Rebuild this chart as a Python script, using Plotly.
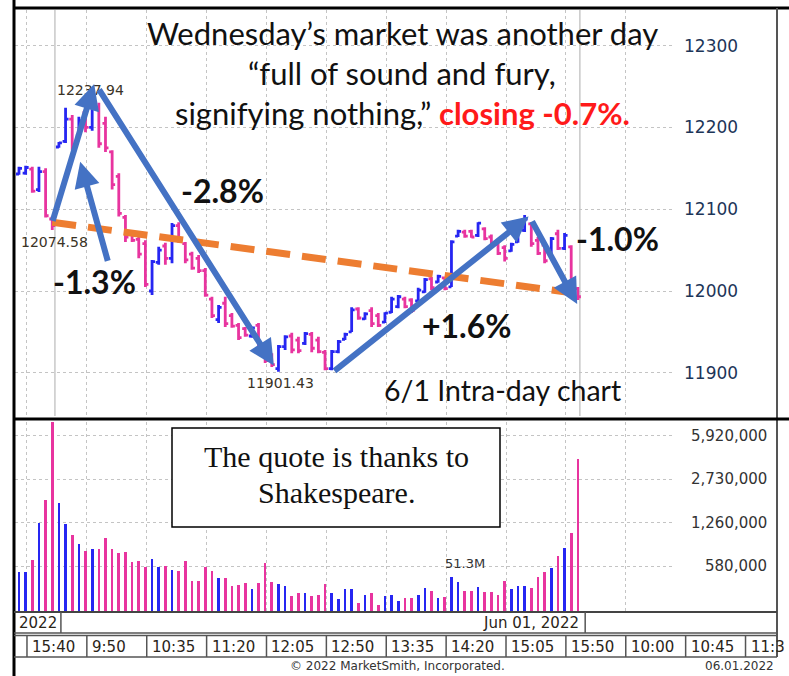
import math
import plotly.graph_objects as go

W, H = 789, 676

# ---------------- data (5-minute bars) ----------------
high = [12152, 12153, 12152, 12152, 12150, 12091, 12182, 12224, 12215, 12213,
        12221, 12237.94, 12230, 12213, 12172, 12144, 12093, 12071, 12066, 12062,
        12038, 12054, 12059, 12083, 12084, 12060, 12048, 12044, 12028, 11993,
        11983, 11993, 11973, 11961, 11956, 11956, 11961, 11932, 11924, 11934,
        11946, 11949, 11944, 11950, 11950, 11944, 11928, 11928, 11940, 11949,
        11980, 11980, 11974, 11980, 11973, 11974, 11993, 11995, 11993, 11991,
        12004, 12016, 12017, 12020, 12017, 12062, 12075, 12075, 12075, 12084,
        12078, 12069, 12059, 12056, 12059, 12075, 12093, 12084, 12066, 12059,
        12066, 12075, 12071, 12056, 12005]
low = [12142, 12142, 12120, 12121, 12090, 12074.58, 12175, 12181, 12172, 12187,
       12194, 12196, 12175, 12170, 12124, 12091, 12060, 12060, 12040, 12005,
       11995, 12032, 12032, 12034, 12059, 12034, 12026, 12022, 11993, 11967,
       11961, 11956, 11955, 11940, 11944, 11943, 11928, 11912, 11907, 11901.43,
       11928, 11924, 11924, 11934, 11925, 11924, 11903, 11903, 11924, 11940,
       11950, 11965, 11965, 11956, 11956, 11961, 11973, 11979, 11979, 11973,
       11987, 11998, 12001, 12010, 12001, 12005, 12066, 12065, 12065, 12066,
       12062, 12056, 12044, 12036, 12048, 12059, 12072, 12054, 12044, 12034,
       12044, 12050, 12050, 12007, 11989]
open_ = [12143, 12144, 12149, 12124, 12146, 12088, 12176, 12183, 12210, 12190,
         12218, 12200, 12224, 12205, 12170, 12140, 12090, 12069, 12063, 12058,
         12000, 12035, 12055, 12040, 12080, 12058, 12045, 12040, 12025, 11990,
         11965, 11985, 11970, 11958, 11954, 11945, 11958, 11929, 11921, 11905,
         11932, 11945, 11940, 11936, 11947, 11940, 11925, 11905, 11926, 11941,
         11950, 11978, 11966, 11976, 11970, 11962, 11974, 11981, 11990, 11989,
         11988, 11999, 12015, 12011, 12016, 12005, 12067, 12072, 12073, 12068,
         12076, 12066, 12057, 12053, 12049, 12060, 12074, 12082, 12062, 12056,
         12046, 12070, 12052, 12054, 12003]
close = [12150, 12151, 12122, 12146, 12092, 12080, 12181, 12210, 12178, 12208,
         12200, 12225, 12180, 12175, 12130, 12095, 12066, 12062, 12045, 12008,
         12036, 12050, 12040, 12080, 12062, 12038, 12028, 12025, 11995, 11970,
         11980, 11960, 11957, 11943, 11946, 11955, 11930, 11915, 11910, 11932,
         11944, 11928, 11927, 11948, 11930, 11926, 11905, 11926, 11938, 11947,
         11977, 11967, 11972, 11960, 11958, 11973, 11990, 11993, 11981, 11976,
         12001, 12014, 12004, 12018, 12003, 12060, 12073, 12067, 12066, 12083,
         12064, 12058, 12046, 12040, 12057, 12073, 12088, 12058, 12046, 12037,
         12064, 12052, 12068, 12010, 11993]
volume = [518000, 518000, 646000, 1257000, 1885000, 9500000, 1797000, 1228000, 1005000, 860000,
          758000, 782000, 782000, 956000, 782000, 727000, 741000, 620000, 634000, 573000,
          654000, 573000, 583000, 540000, 531000, 634000, 444000, 444000, 573000, 531000,
          466000, 466000, 408000, 414000, 431000, 382000, 431000, 615000, 433000, 420000,
          406000, 339000, 360000, 360000, 339000, 346000, 420000, 360000, 320000, 382000,
          382000, 301000, 346000, 360000, 289000, 339000, 346000, 310000, 329000, 329000,
          346000, 394000, 371000, 329000, 335000, 479000, 433000, 371000, 371000, 401000,
          363000, 363000, 346000, 444000, 382000, 406000, 406000, 394000, 479000, 518000,
          557000, 697000, 805000, 1041000, 3903000]

price_ticks = [11900, 12000, 12100, 12200, 12300]
volume_ticks = [580000, 1260000, 2730000, 5920000]
time_labels = ["15:40", "9:50", "10:35", "11:20", "12:05", "12:50", "13:35",
               "14:20", "15:05", "15:50", "10:00", "10:45", "11:3"]
high_label, day_open_label, low_label = "12237.94", "12074.58", "11901.43"
total_volume_label = "51.3M"

n = len(high)
assert len(low) == n and len(open_) == n and len(close) == n and len(volume) == n
idx = list(range(n))

BLUE = "#2626f2"
PINK = "#e8349f"
GRID = "#c4c4c4"
ARROW = "#4472C4"
ORANGE = "#ED7D31"
MS_FONT = "DejaVu Sans"

vol_colors = [BLUE if c > o else PINK for o, c in zip(open_, close)]

# ---------------- geometry helpers ----------------
def PXx(x):
    return x / W

def PXy(y):
    return 1 - y / H

X_PX0, X_PX1 = 15, 675
X_RANGE = [-0.6, 98.6]

def k_px(k):
    return X_PX0 + (k - X_RANGE[0]) / (X_RANGE[1] - X_RANGE[0]) * (X_PX1 - X_PX0)

TICK_START, TICK_STEP = 1.2, 9
tick_k = [TICK_START + TICK_STEP * j for j in range(len(time_labels))]
grid_k = [t for t in tick_k if t < X_RANGE[1]]

fig = go.Figure()

fig.add_trace(go.Ohlc(
    x=idx, open=open_, high=high, low=low, close=close,
    increasing=dict(line=dict(color=BLUE, width=2.8)),
    decreasing=dict(line=dict(color=PINK, width=2.8)),
    tickwidth=0.45, hoverinfo="skip", showlegend=False,
    xaxis="x", yaxis="y"))

fig.add_trace(go.Bar(
    x=idx, y=volume, marker=dict(color=vol_colors, line=dict(width=0)),
    width=0.4, hoverinfo="skip", showlegend=False,
    xaxis="x2", yaxis="y2"))

axis_common = dict(showline=False, zeroline=False, ticks="")
fig.update_layout(
    width=W, height=H, margin=dict(l=0, r=0, t=0, b=0),
    paper_bgcolor="white", plot_bgcolor="white",
    showlegend=False, bargap=0,
    xaxis=dict(domain=[PXx(X_PX0), PXx(X_PX1)], range=X_RANGE, anchor="y",
               tickvals=grid_k, showticklabels=False, showgrid=True,
               gridcolor=GRID, griddash="dot", gridwidth=1,
               rangeslider=dict(visible=False), **axis_common),
    xaxis2=dict(domain=[PXx(X_PX0), PXx(X_PX1)], range=X_RANGE, anchor="y2",
                matches="x", tickvals=grid_k, showticklabels=False, showgrid=True,
                gridcolor=GRID, griddash="dot", gridwidth=1, **axis_common),
    yaxis=dict(domain=[PXy(416), PXy(10)], range=[11847.2, 12343.5], anchor="x",
               side="right", tickvals=price_ticks, ticktext=[str(t) for t in price_ticks],
               tickfont=dict(family=MS_FONT, size=17, color="#1d3558"),
               ticklabelstandoff=8, showgrid=True, gridcolor=GRID, griddash="dot",
               gridwidth=1, **axis_common),
    yaxis2=dict(domain=[PXy(612), PXy(422)], type="log",
                range=[math.log10(255100), math.log10(7.6e6)], anchor="x2",
                tickvals=volume_ticks, showticklabels=False, showgrid=True,
                gridcolor=GRID, griddash="dot", gridwidth=1, **axis_common),
)

shapes = []
for kk in (5.4, 84.3):
    shapes.append(dict(type="line", xref="x", yref="paper", x0=kk, x1=kk,
                       y0=PXy(416), y1=PXy(10), line=dict(color="#c8c8c8", width=1.5),
                       layer="below"))
shapes.append(dict(type="line", xref="x", yref="y", x0=5.0, y0=12084, x1=83.8, y1=11997,
                   line=dict(color=ORANGE, width=7, dash="24px,12px")))

def pline(x0, y0, x1, y1, color="black", width=1):
    shapes.append(dict(type="line", xref="paper", yref="paper",
                       x0=PXx(x0), y0=PXy(y0), x1=PXx(x1), y1=PXy(y1),
                       line=dict(color=color, width=width)))

pline(14, 0, 14, 676, "black", 3)
pline(14, 8, 789, 8, "black", 3)
pline(777, 8, 777, 657, "#555555", 2)
pline(14, 419, 789, 419, "black", 3)
pline(14, 612, 777, 612, "#444444", 2)
pline(14, 633, 777, 633, "#555555", 1.5)
pline(14, 635.5, 777, 635.5, "#555555", 1.5)
pline(14, 657, 777, 657, "#555555", 1.5)
DAY_EDGE_K = 6.3
LAST_EDGE_K = 85.1
for kk in (DAY_EDGE_K, LAST_EDGE_K):
    x = k_px(kk)
    pline(x, 612, x, 633, "#555555", 1.5)
for t in tick_k:
    x = k_px(t)
    if x < 777:
        pline(x, 635.5, x, 657, "#555555", 1.5)

shapes.append(dict(type="rect", xref="paper", yref="paper",
                   x0=PXx(172), x1=PXx(500), y0=PXy(527), y1=PXy(428),
                   fillcolor="white", line=dict(color="black", width=1.5)))

annotations = []

def note(x, y, text, font, xanchor="center", yanchor="middle", xref="paper", yref="paper", **kw):
    d = dict(x=x, y=y, xref=xref, yref=yref, text=text, showarrow=False, font=font,
             xanchor=xanchor, yanchor=yanchor)
    d.update(kw)
    annotations.append(d)

small = dict(family=MS_FONT, size=14, color="#3a3326")
note(10.8, float(high[11]), high_label, small, yanchor="bottom", xref="x", yref="y", yshift=-4)
note(5.3, float(low[5]), day_open_label, small, yanchor="top", xref="x", yref="y", yshift=-2)
note(39.3, float(low[39]), low_label, small, yanchor="top", xref="x", yref="y", yshift=-1)
note(67, math.log10(volume[65]), total_volume_label, dict(family=MS_FONT, size=13, color="#333"),
     yanchor="bottom", xref="x2", yref="y2", yshift=4)

for v in volume_ticks:
    note(PXx(769), math.log10(v), f"{v:,}", dict(family=MS_FONT, size=15, color="#333333"),
         xanchor="right", yref="y2")

row_font = dict(family=MS_FONT, size=15, color="#2a2418")
note(PXx(17), PXy(622.5), "2022", row_font, xanchor="left")
note(PXx(k_px(LAST_EDGE_K) - 4), PXy(622.5), "Jun 01, 2022", row_font, xanchor="right")
for t, lab in zip(tick_k, time_labels):
    note(PXx(k_px(t) + 3), PXy(646.5), lab, row_font, xanchor="left")
foot_font = dict(family=MS_FONT, size=12, color="#333")
note(PXx(397), PXy(665.5), "© 2022 MarketSmith, Incorporated.", foot_font)
note(PXx(776), PXy(665.5), "06.01.2022", foot_font, xanchor="right")

slide = "Lato"
title_lines = ["Wednesday’s market was another day",
               "“full of sound and fury,",
               "signifying nothing,” <span style='color:#ff1a1a'><b>closing -0.7%.</b></span>"]
for line, yc in zip(title_lines, (33, 73, 113)):
    note(PXx(402), PXy(yc), line, dict(family=slide, size=31, color="#111"))

pct_font = dict(family=slide, size=32, color="#111")
for txt, xc, yc in (("-2.8%", 222, 190), ("-1.3%", 94, 281),
                    ("+1.6%", 467, 325), ("-1.0%", 617, 238)):
    note(PXx(xc), PXy(yc), f"<b>{txt}</b>", pct_font)
note(PXx(502), PXy(390), "6/1 Intra-day chart", dict(family=slide, size=28.5, color="#111"))

quote_font = dict(family="Liberation Serif, Times New Roman", size=30, color="#111")
note(PXx(336), PXy(457), "The quote is thanks to", quote_font)
note(PXx(336), PXy(492), "Shakespeare.", quote_font)

arrows = [
    ((5.0, 12084), (11.3, 12253)),
    ((13.4, 12035), (9.2, 12158)),
    ((11.9, 12248), (38.3, 11909)),
    ((47.2, 11901), (76.6, 12091)),
    ((77.0, 12087), (83.9, 11984)),
]
for (tx, ty), (hx, hy) in arrows:
    annotations.append(dict(x=hx, y=hy, ax=tx, ay=ty, xref="x", yref="y", axref="x", ayref="y",
                            text="", showarrow=True, arrowhead=2, arrowsize=0.85,
                            arrowwidth=6, arrowcolor=ARROW, standoff=0))

fig.update_layout(shapes=shapes, annotations=annotations)
fig.write_html("out.html", config={"displayModeBar": False},
               post_script="document.body.style.margin='0';document.body.style.overflow='hidden';")
